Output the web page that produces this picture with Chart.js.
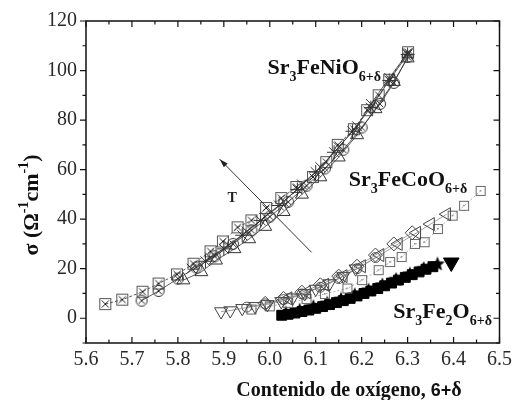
<!DOCTYPE html>
<html>
<head>
<meta charset="utf-8">
<script src="https://cdn.jsdelivr.net/npm/chart.js@4"></script>
<style>
html, body { margin: 0; background: #fff; }
</style>
</head>
<body>
<canvas id="cond" width="517" height="400"></canvas>
<script>
// conductivity vs oxygen content, one series per temperature
const xTicks = [5.6, 5.7, 5.8, 5.9, 6.0, 6.1, 6.2, 6.3, 6.4, 6.5];
const yTicks = [0, 20, 40, 60, 80, 100, 120];

// Sr3FeNiO6+d
const niBoxX = [5.642, 5.679, 5.723, 5.758, 5.798, 5.834, 5.871, 5.898, 5.930, 5.960, 5.992, 6.025, 6.058, 6.094, 6.123, 6.148, 6.183, 6.212, 6.237, 6.260, 6.301];
const niBoxY = [5.7, 7.5, 10.7, 14.0, 17.7, 22.0, 27.0, 31.0, 36.7, 39.5, 44.5, 48.5, 53.0, 57.0, 63.0, 70.0, 76.3, 84.0, 90.0, 96.3, 107.4];
const niCircX = [5.721, 5.758, 5.800, 5.840, 5.880, 5.920, 5.960, 6.000, 6.040, 6.080, 6.120, 6.160, 6.200, 6.240, 6.270, 6.300];
const niCircY = [7.1, 11.0, 16.0, 20.5, 25.0, 30.0, 35.5, 41.0, 47.0, 53.5, 60.5, 68.0, 77.0, 86.5, 95.0, 105.5];
const niTriX = [5.812, 5.851, 5.883, 5.923, 5.955, 5.990, 6.030, 6.070, 6.110, 6.150, 6.190, 6.230, 6.270, 6.300];
const niTriY = [15.4, 18.7, 23.4, 28.0, 32.0, 37.0, 43.0, 50.0, 57.0, 65.0, 74.0, 84.5, 95.5, 105.0];
const niCrossX = [5.830, 5.870, 5.910, 5.950, 5.990, 6.030, 6.070, 6.110, 6.150, 6.190, 6.220, 6.260, 6.300];
const niCrossY = [20.0, 24.5, 29.5, 35.0, 41.0, 47.0, 54.0, 61.0, 69.0, 77.5, 86.5, 97.0, 107.0];
const niStarX = [5.860, 5.900, 5.940, 5.980, 6.020, 6.060, 6.100, 6.140, 6.180, 6.220, 6.260, 6.300];
const niStarY = [23.0, 28.0, 33.5, 39.5, 45.5, 52.0, 59.0, 67.0, 75.5, 85.0, 96.0, 106.5];

// Sr3FeCoO6+d
const coDownX = [5.894, 5.914, 5.940, 5.968, 5.995, 6.025, 6.050, 6.076, 6.100, 6.130, 6.160, 6.187];
const coDownY = [2.7, 3.1, 4.0, 4.8, 5.6, 6.8, 8.3, 10.0, 11.8, 14.0, 17.0, 20.0];
const coCircX = [5.950, 5.990, 6.030, 6.070, 6.110, 6.150, 6.190, 6.230];
const coCircY = [4.5, 5.8, 7.5, 9.8, 12.5, 16.0, 20.0, 24.5];
const coDiamX = [5.990, 6.030, 6.070, 6.110, 6.150, 6.190, 6.230, 6.270, 6.310];
const coDiamY = [6.0, 8.0, 10.5, 13.5, 17.0, 21.0, 25.5, 30.0, 34.5];
const coLeftX = [6.040, 6.080, 6.120, 6.160, 6.200, 6.240, 6.280, 6.320, 6.350, 6.385];
const coLeftY = [8.0, 10.5, 13.5, 17.0, 21.0, 25.5, 30.0, 34.5, 38.0, 42.0];
const coSqX = [5.960, 6.000, 6.040, 6.080, 6.120, 6.169, 6.201, 6.237, 6.262, 6.287, 6.316, 6.337, 6.366, 6.398, 6.423, 6.459];
const coSqY = [3.5, 4.8, 6.2, 7.8, 9.8, 12.0, 15.4, 19.4, 22.7, 24.7, 30.0, 30.7, 36.0, 41.4, 45.4, 51.4];

// Sr3Fe2O6+d
const feSqX = [6.026, 6.040, 6.055, 6.070, 6.085, 6.100, 6.115, 6.130, 6.145, 6.160, 6.175, 6.190, 6.205, 6.220, 6.235, 6.250, 6.265, 6.280, 6.295, 6.310, 6.325, 6.340, 6.355];
const feSqY = [1.2, 1.6, 2.1, 2.7, 3.3, 4.0, 4.7, 5.5, 6.3, 7.1, 8.0, 9.0, 10.0, 11.0, 12.0, 13.1, 14.2, 15.4, 16.5, 17.6, 18.7, 19.8, 20.8];
const feStarX = [6.035, 6.065, 6.095, 6.125, 6.155, 6.185, 6.215, 6.245, 6.275, 6.305, 6.335, 6.365];
const feStarY = [2.0, 3.2, 4.6, 6.0, 7.6, 9.4, 11.3, 13.4, 15.6, 17.8, 20.0, 21.8];
const feTriX = [6.395];
const feTriY = [22.5];

const SERIF = '"Liberation Serif", "DejaVu Serif", serif';

function pts(xs, ys) {
    return xs.map((x, i) => ({x: x, y: ys[i]}));
}

// small marker images for the symbols chart.js has no style for
function glyph(size, draw) {
    const c = document.createElement('canvas');
    c.width = size;
    c.height = size;
    const g = c.getContext('2d');
    g.lineWidth = 1;
    draw(g, size);
    return c;
}

const boxX = glyph(14, (g, s) => {
    g.strokeStyle = '#555';
    g.strokeRect(1.5, 1.5, s - 3, s - 3);
    g.strokeStyle = '#222';
    g.beginPath();
    g.moveTo(3.5, 3.5); g.lineTo(s - 3.5, s - 3.5);
    g.moveTo(s - 3.5, 3.5); g.lineTo(3.5, s - 3.5);
    g.stroke();
});
const circX = glyph(14, (g, s) => {
    g.strokeStyle = '#333';
    g.beginPath();
    g.arc(s / 2, s / 2, s / 2 - 1.5, 0, Math.PI * 2);
    g.stroke();
    g.beginPath();
    g.moveTo(4, 4); g.lineTo(s - 4, s - 4);
    g.moveTo(s - 4, 4); g.lineTo(4, s - 4);
    g.stroke();
});
const boxDot = glyph(12, (g, s) => {
    g.strokeStyle = '#666';
    g.strokeRect(1.5, 1.5, s - 3, s - 3);
    g.fillStyle = '#888';
    g.fillRect(s / 2 - 1, s / 2 - 1, 1.5, 1.5);
});
const starFill = glyph(16, (g, s) => {
    g.fillStyle = '#000';
    g.beginPath();
    for (let i = 0; i < 10; i++) {
        const r = i % 2 ? 3.4 : 7.8;
        const a = -Math.PI / 2 + i * Math.PI / 5;
        g.lineTo(s / 2 + r * Math.cos(a), s / 2 + r * Math.sin(a));
    }
    g.closePath();
    g.fill();
});

function series(xs, ys, style, extra) {
    return Object.assign({
        data: pts(xs, ys),
        showLine: true,
        borderColor: '#333',
        borderWidth: 0.8,
        pointStyle: style,
        pointRadius: 6,
        pointBorderColor: '#333',
        pointBorderWidth: 1,
        pointBackgroundColor: 'rgba(0,0,0,0)'
    }, extra || {});
}

const datasets = [
    series(coDownX, coDownY, 'triangle', {pointRotation: 180, pointRadius: 7.5, pointBorderColor: '#444', borderColor: '#888'}),
    series(coCircX, coCircY, 'circle', {pointRadius: 5, pointBorderColor: '#555', borderColor: '#888'}),
    series(coDiamX, coDiamY, 'rectRot', {pointRadius: 7, pointBorderColor: '#444', borderColor: '#888'}),
    series(coLeftX, coLeftY, 'triangle', {pointRotation: 270, pointRadius: 7.5, pointBorderColor: '#444', borderColor: '#888'}),
    series(coSqX, coSqY, boxDot, {borderColor: '#999', borderDash: [2, 2]}),
    series(niTriX, niTriY, 'triangle', {pointRadius: 7.5}),
    series(niCrossX, niCrossY, 'crossRot', {pointRadius: 7}),
    series(niStarX, niStarY, 'star', {pointRadius: 7}),
    series(niCircX, niCircY, circX),
    series(niBoxX, niBoxY, boxX, {borderDash: [3, 2]}),
    series(feStarX, feStarY, starFill, {borderColor: '#000'}),
    series(feSqX, feSqY, 'rect', {pointRadius: 7, pointBackgroundColor: '#000', pointBorderColor: '#000', borderColor: '#000'}),
    series(feTriX, feTriY, 'triangle', {pointRotation: 180, pointRadius: 9, pointBackgroundColor: '#000', pointBorderColor: '#000'})
];

// text made of runs so sub- and superscripts can be drawn
function drawRuns(ctx, x, y, runs) {
    for (const r of runs) {
        ctx.font = 'bold ' + r.size + 'px ' + (r.family || SERIF);
        ctx.fillText(r.t, x, y + (r.dy || 0));
        x += ctx.measureText(r.t).width;
    }
}
function runsWidth(ctx, runs) {
    let w = 0;
    for (const r of runs) {
        ctx.font = 'bold ' + r.size + 'px ' + (r.family || SERIF);
        w += ctx.measureText(r.t).width;
    }
    return w;
}

function formula(parts) {
    // parts alternate: normal text, subscript, normal, subscript ...
    return parts.map((t, i) => i % 2 ? {t: t, size: 14, dy: 7} : {t: t, size: 22});
}

const labels = [
    {x: 5.995, y: 98.6, runs: formula(['Sr', '3', 'FeNiO', '6+δ'])},
    {x: 6.172, y: 53.4, runs: formula(['Sr', '3', 'FeCoO', '6+δ'])},
    {x: 6.269, y: 0.2, runs: formula(['Sr', '3', 'Fe', '2', 'O', '6+δ'])}
];

const decor = {
    id: 'decor',
    afterDraw(chart) {
        const {ctx, chartArea: a, scales: {x, y}} = chart;
        ctx.save();

        // frame
        ctx.strokeStyle = '#111';
        ctx.lineWidth = 1.5;
        ctx.strokeRect(a.left, a.top, a.right - a.left, a.bottom - a.top);

        // tick marks: inward on top, right and bottom, outward on the left
        ctx.lineWidth = 1.2;
        ctx.beginPath();
        xTicks.forEach((v, i) => {
            const px = x.getPixelForValue(v);
            ctx.moveTo(px, a.bottom); ctx.lineTo(px, a.bottom - 6);
            ctx.moveTo(px, a.top); ctx.lineTo(px, a.top + 6);
            if (i < xTicks.length - 1) {
                const mx = x.getPixelForValue((v + xTicks[i + 1]) / 2);
                ctx.moveTo(mx, a.bottom); ctx.lineTo(mx, a.bottom - 3.5);
                ctx.moveTo(mx, a.top); ctx.lineTo(mx, a.top + 3.5);
            }
        });
        const yMinor = [-10].concat(yTicks.slice(0, -1).map((v, i) => (v + yTicks[i + 1]) / 2));
        yTicks.forEach(v => {
            const py = y.getPixelForValue(v);
            ctx.moveTo(a.left, py); ctx.lineTo(a.left - 6, py);
            ctx.moveTo(a.right, py); ctx.lineTo(a.right - 6, py);
        });
        yMinor.forEach(v => {
            const py = y.getPixelForValue(v);
            ctx.moveTo(a.left, py); ctx.lineTo(a.left - 3.5, py);
            ctx.moveTo(a.right, py); ctx.lineTo(a.right - 3.5, py);
        });
        ctx.stroke();

        // temperature arrow
        const x0 = x.getPixelForValue(6.091), y0 = y.getPixelForValue(26.6);
        const x1 = x.getPixelForValue(5.891), y1 = y.getPixelForValue(64.2);
        const ang = Math.atan2(y1 - y0, x1 - x0);
        ctx.strokeStyle = '#333';
        ctx.fillStyle = '#222';
        ctx.lineWidth = 1;
        ctx.beginPath();
        ctx.moveTo(x0, y0); ctx.lineTo(x1, y1);
        ctx.stroke();
        ctx.beginPath();
        ctx.moveTo(x1, y1);
        ctx.lineTo(x1 - 9 * Math.cos(ang - 0.3), y1 - 9 * Math.sin(ang - 0.3));
        ctx.lineTo(x1 - 9 * Math.cos(ang + 0.3), y1 - 9 * Math.sin(ang + 0.3));
        ctx.closePath();
        ctx.fill();
        ctx.font = 'bold 14px ' + SERIF;
        ctx.textAlign = 'center';
        ctx.textBaseline = 'middle';
        ctx.fillText('T', x.getPixelForValue(5.918), y.getPixelForValue(48.5));

        // compound names
        ctx.textAlign = 'left';
        ctx.textBaseline = 'alphabetic';
        ctx.fillStyle = '#111';
        labels.forEach(l => drawRuns(ctx, x.getPixelForValue(l.x), y.getPixelForValue(l.y), l.runs));

        // axis titles
        const xt = [
            {t: 'Contenido de oxígeno, ', size: 20},
            {t: '6+', size: 18, family: '"Liberation Sans", Arial, sans-serif'},
            {t: 'δ', size: 20}
        ];
        const xw = runsWidth(ctx, xt);
        drawRuns(ctx, 349 - xw / 2, 396, xt);

        const yt = [
            {t: 'σ (Ω', size: 22},
            {t: '-1', size: 14, dy: -10},
            {t: 'cm', size: 22},
            {t: '-1', size: 14, dy: -10},
            {t: ')', size: 22}
        ];
        const yw = runsWidth(ctx, yt);
        ctx.translate(38, 205);
        ctx.rotate(-Math.PI / 2);
        drawRuns(ctx, -yw / 2, 0, yt);

        ctx.restore();
    }
};

const tickFont = {family: SERIF, size: 20};

const chart = new Chart(document.getElementById('cond'), {
    type: 'scatter',
    data: {datasets: datasets},
    options: {
        responsive: false,
        animation: false,
        events: [],
        layout: {padding: {top: 18, right: 11, left: 0, bottom: 0}},
        plugins: {
            legend: {display: false},
            tooltip: {enabled: false}
        },
        scales: {
            x: {
                type: 'linear',
                min: 5.6,
                max: 6.5,
                grid: {display: false, drawTicks: false},
                border: {display: false},
                ticks: {
                    font: tickFont,
                    color: '#2a2a2a',
                    padding: 5,
                    autoSkip: false,
                    maxRotation: 0,
                    callback: v => v.toFixed(1)
                },
                afterBuildTicks: s => { s.ticks = xTicks.map(v => ({value: v})); },
                afterFit: s => { s.height = 57; }
            },
            y: {
                type: 'linear',
                min: -10,
                max: 120,
                grid: {display: false, drawTicks: false},
                border: {display: false},
                ticks: {
                    font: tickFont,
                    color: '#2a2a2a',
                    padding: 9,
                    autoSkip: false,
                    callback: v => String(v)
                },
                afterBuildTicks: s => { s.ticks = yTicks.map(v => ({value: v})); },
                afterFit: s => { s.width = 86; }
            }
        }
    },
    plugins: [decor]
});
</script>
</body>
</html>
